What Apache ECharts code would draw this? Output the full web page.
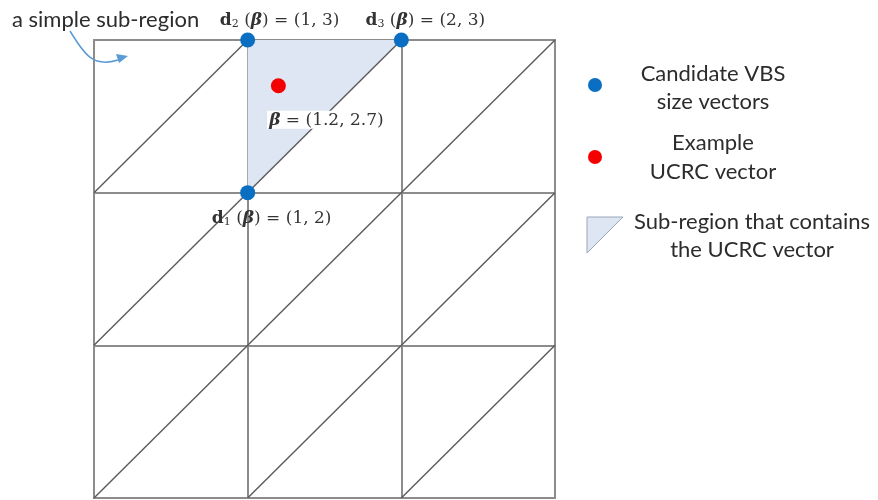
<!DOCTYPE html>
<html>
<head>
<meta charset="utf-8">
<script src="https://cdn.jsdelivr.net/npm/echarts@6/dist/echarts.min.js"></script>
<style>
  html, body { margin: 0; padding: 0; background: #fff; }
  #chart { width: 878px; height: 500px; }
</style>
</head>
<body>
<div id="chart"></div>
<script>
// Axis range and tick step of the square domain
var axisMin = 0;
var axisMax = 3;
var axisStep = 1;

// Diagonal segments splitting each unit cell into two triangles
var diagonals = [
  [[0, 2], [1, 3]],
  [[0, 1], [2, 3]],
  [[0, 0], [3, 3]],
  [[1, 0], [3, 2]],
  [[2, 0], [3, 1]]
];

// Candidate VBS size vectors (vertices of the containing sub-region)
var candidateNames = ['1', '2', '3'];
var candidatePoints = [[1, 2], [1, 3], [2, 3]];

// Example UCRC vector
var ucrcPoint = [1.2, 2.7];

// Sub-region (triangle) that contains the UCRC vector
var subRegion = [[1, 3], [2, 3], [1, 2]];

// Legend texts
var legendTexts = [
  'Candidate VBS\nsize vectors',
  'Example\nUCRC vector',
  'Sub-region that contains\nthe UCRC vector'
];
var calloutText = 'a simple sub-region';

var SERIF = '"DejaVu Serif", "Liberation Serif", serif';
var SANS = 'Lato, "Open Sans", sans-serif';
var BLUE = '#0a6fc2';
var RED = '#f40000';
var FILL = '#dee6f3';
var TXT = '#2c2c2c';
var MTXT = '#333';

var mathRich = {
  b: { fontFamily: SERIF, fontWeight: 'bold', fontSize: 17, color: MTXT },
  sub: { fontFamily: SERIF, fontSize: 11, color: MTXT, verticalAlign: 'bottom', padding: [7, 0, 0, 0] },
  beta: { fontFamily: SERIF, fontWeight: 'bold', fontStyle: 'italic', fontSize: 17, color: MTXT },
  n: { fontFamily: SERIF, fontSize: 17, color: MTXT }
};

function vecLabel(name, p) {
  return '{b|d}{sub|' + name + '}{n| (}{beta|β}{n|) = (' + p[0] + ', ' + p[1] + ')}';
}

// per-point label offsets (pixels)
var candidateOffsets = [[24, 26], [32, -19], [24, -19]];

var chart = echarts.init(document.getElementById('chart'), null, { renderer: 'canvas' });

var option = {
  animation: false,
  backgroundColor: '#fff',
  grid: {
    left: 94, right: 323, top: 40, bottom: 2,
    show: true, borderColor: '#8c8c8c', borderWidth: 2, backgroundColor: 'transparent'
  },
  xAxis: {
    type: 'value', min: axisMin, max: axisMax, interval: axisStep,
    axisLine: { show: false }, axisTick: { show: false }, axisLabel: { show: false },
    splitLine: { show: true, lineStyle: { color: '#8c8c8c', width: 2 } }
  },
  yAxis: {
    type: 'value', min: axisMin, max: axisMax, interval: axisStep,
    axisLine: { show: false }, axisTick: { show: false }, axisLabel: { show: false },
    splitLine: { show: true, lineStyle: { color: '#8c8c8c', width: 2 } }
  },
  series: [
    {
      // shaded sub-region
      type: 'custom',
      z: 1,
      data: [0],
      renderItem: function (params, api) {
        var pts = subRegion.map(function (p) { return api.coord(p); });
        return {
          type: 'polygon',
          shape: { points: pts },
          style: { fill: FILL, stroke: null }
        };
      },
      silent: true
    },
    {
      type: 'lines',
      coordinateSystem: 'cartesian2d',
      z: 3,
      silent: true,
      lineStyle: { color: '#5a5a5a', width: 1.4, opacity: 1 },
      data: diagonals.map(function (d) { return { coords: d }; })
    },
    {
      type: 'scatter',
      z: 6,
      symbolSize: 15,
      itemStyle: { color: BLUE, opacity: 1 },
      data: candidatePoints.map(function (p, i) {
        return {
          value: p,
          label: {
            show: true,
            position: ['50%', '50%'],
            align: 'center',
            verticalAlign: 'middle',
            offset: candidateOffsets[i],
            formatter: vecLabel(candidateNames[i], p),
            rich: mathRich
          }
        };
      })
    },
    {
      type: 'scatter',
      z: 6,
      symbolSize: 15,
      itemStyle: { color: RED, opacity: 1 },
      data: [{
        value: ucrcPoint,
        label: {
          show: true,
          position: ['50%', '50%'],
          align: 'center',
          verticalAlign: 'middle',
          offset: [48, 34],
          backgroundColor: '#fff',
          padding: [1, 2, 0, 2],
          formatter: '{beta|β}{n| = (' + ucrcPoint[0] + ', ' + ucrcPoint[1] + ')}',
          rich: mathRich
        }
      }]
    }
  ],
  graphic: [
    // callout text and arrow
    {
      type: 'text', left: 12, top: 9, z: 10,
      style: { text: calloutText, font: '22px ' + SANS, fill: TXT }
    },
    {
      type: 'bezierCurve', z: 10,
      shape: { x1: 70, y1: 31, cpx1: 84, cpy1: 54, cpx2: 93, cpy2: 68, x2: 118, y2: 60 },
      style: { stroke: '#5b9bd5', lineWidth: 1.5, fill: null }
    },
    {
      type: 'polygon', z: 10,
      shape: { points: [[128, 56], [116, 54], [119, 63]] },
      style: { fill: '#5b9bd5' }
    },
    // legend
    { type: 'circle', z: 10, shape: { cx: 595, cy: 85, r: 7 }, style: { fill: BLUE } },
    {
      type: 'text', z: 10, x: 713, y: 88,
      style: { text: legendTexts[0], font: '22px ' + SANS, fill: TXT, align: 'center', verticalAlign: 'middle', lineHeight: 28 }
    },
    { type: 'circle', z: 10, shape: { cx: 595, cy: 157, r: 7 }, style: { fill: RED } },
    {
      type: 'text', z: 10, x: 713, y: 157,
      style: { text: legendTexts[1], font: '22px ' + SANS, fill: TXT, align: 'center', verticalAlign: 'middle', lineHeight: 29 }
    },
    {
      type: 'polygon', z: 10,
      shape: { points: [[587, 217], [623, 217], [587, 253]] },
      style: { fill: FILL, stroke: '#9aa6bb', lineWidth: 1 }
    },
    {
      type: 'text', z: 10, x: 752, y: 236,
      style: { text: legendTexts[2], font: '22px ' + SANS, fill: TXT, align: 'center', verticalAlign: 'middle', lineHeight: 28 }
    }
  ]
};

chart.setOption(option);
</script>
</body>
</html>
